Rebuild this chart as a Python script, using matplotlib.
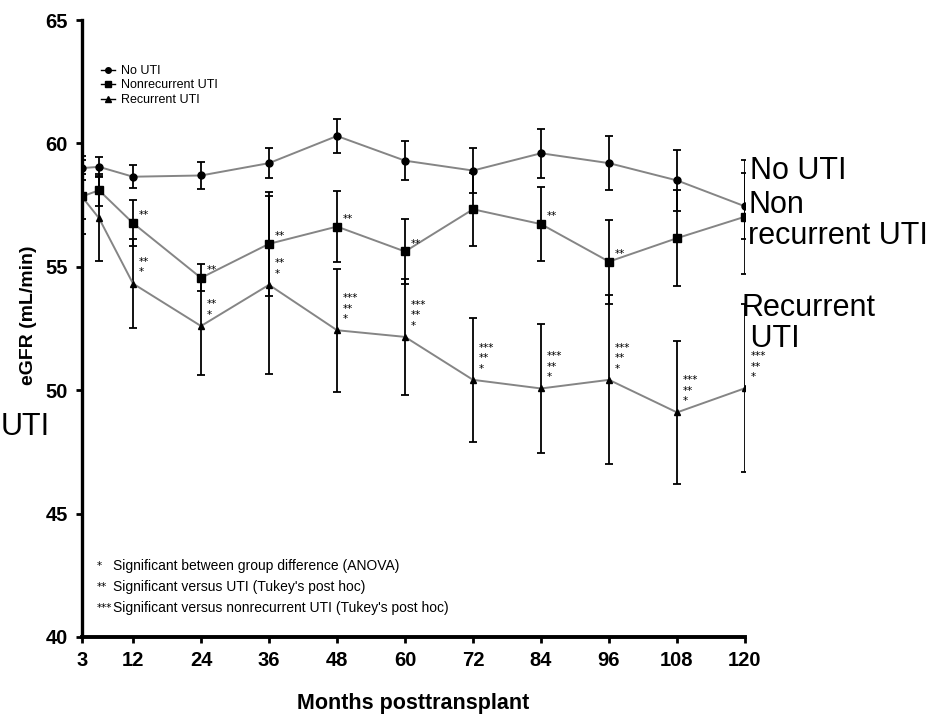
import numpy as np
import matplotlib.pyplot as plt
from matplotlib.lines import Line2D

# eGFR (mL/min) by months after transplant, mean with error bars
months = [3, 6, 12, 24, 36, 48, 60, 72, 84, 96, 108, 120]

no_uti = [59.0, 59.05, 58.65, 58.7, 59.2, 60.3, 59.3, 58.9, 59.6, 59.2, 58.5, 57.45]
no_uti_err = [0.5, 0.4, 0.47, 0.53, 0.6, 0.7, 0.8, 0.9, 1.0, 1.08, 1.25, 1.34]

nonrec = [57.85, 58.1, 56.77, 54.55, 55.93, 56.63, 55.62, 57.33, 56.73, 55.21, 56.16, 57.03]
nonrec_err = [0.9, 0.65, 0.93, 0.55, 2.1, 1.43, 1.32, 1.47, 1.5, 1.7, 1.95, 2.31]

recur = [57.84, 56.97, 54.32, 52.6, 54.27, 52.43, 52.16, 50.42, 50.07, 50.42, 49.1, 50.08]
recur_err = [1.5, 1.72, 1.8, 2.0, 3.6, 2.5, 2.36, 2.5, 2.6, 3.43, 2.9, 3.4]

# significance marks
nonrec_marks = {12: '**', 24: '**', 36: '**', 48: '**', 60: '**', 84: '**', 96: '**'}
recur_marks = {12: '**\n*', 24: '**\n*', 36: '**\n*', 48: '***\n**\n*', 60: '***\n**\n*',
               72: '***\n**\n*', 84: '***\n**\n*', 96: '***\n**\n*', 108: '***\n**\n*',
               120: '***\n**\n*'}

xticks = [3, 12, 24, 36, 48, 60, 72, 84, 96, 108, 120]
yticks = [40, 45, 50, 55, 60, 65]

notes_star = ['*', '**', '***']
notes_text = ['Significant between group difference (ANOVA)',
              "Significant versus UTI (Tukey's post hoc)",
              "Significant versus nonrecurrent UTI (Tukey's post hoc)"]

arial = ['Liberation Sans', 'DejaVu Sans']

W, H = 945, 728
fig = plt.figure(figsize=(W / 100, H / 100), dpi=100)
ax = fig.add_axes([82 / W, 1 - 637 / H, (745 - 82) / W, (637 - 20) / H])

series = [(no_uti, no_uti_err, 'o', 5), (nonrec, nonrec_err, 's', 5.3), (recur, recur_err, '^', 5)]
for vals, err, mk, ms in series:
    ax.errorbar(months, vals, yerr=err, fmt='none', ecolor='black', elinewidth=1.3,
                capsize=3.0, capthick=1.3, zorder=2)
    ax.plot(months, vals, color='#858585', lw=1.4, zorder=3)
    ax.plot(months, vals, ls='none', marker=mk, ms=ms, color='black', zorder=4)

for m, s in nonrec_marks.items():
    ax.annotate(s, (m, nonrec[months.index(m)]), xytext=(4, 2), textcoords='offset points',
                ha='left', va='bottom', fontsize=7.5, family='DejaVu Sans', linespacing=1.05)
for m, s in recur_marks.items():
    ax.annotate(s, (m, recur[months.index(m)]), xytext=(4, 4.5), textcoords='offset points',
                ha='left', va='bottom', fontsize=7.5, family='DejaVu Sans', linespacing=1.05)

ax.set_xlim(3, 120)
ax.set_ylim(40, 65)
ax.set_xticks(xticks)
ax.set_yticks(yticks)
for side in ['top', 'right']:
    ax.spines[side].set_visible(False)
ax.spines['left'].set_linewidth(2.4)
ax.spines['bottom'].set_linewidth(2.8)
ax.tick_params(direction='out', length=4, width=2, pad=6)
for lab in ax.get_xticklabels() + ax.get_yticklabels():
    lab.set_family(arial)
    lab.set_fontweight('bold')
    lab.set_fontsize(14.5)

ax.set_xlabel('Months posttransplant', family=arial, fontweight='bold', fontsize=15.5, labelpad=17)
fig.text(29 / W, 1 - 315 / H, 'eGFR (mL/min)', rotation=90, ha='center', va='center',
         family=arial, fontweight='bold', fontsize=14)

# legend block
handles = [Line2D([], [], color='black', marker='o', ms=4, lw=1),
           Line2D([], [], color='black', marker='s', ms=4, lw=1),
           Line2D([], [], color='black', marker='^', ms=4, lw=1)]
ax.legend(handles, ['No UTI', 'Nonrecurrent UTI', 'Recurrent UTI'], loc='upper left',
          bbox_to_anchor=(101 / W, 1 - 65 / H), bbox_transform=fig.transFigure,
          frameon=False, handlelength=1.1, handletextpad=0.5, borderpad=0,
          borderaxespad=0, labelspacing=0.2, prop={'family': arial, 'size': 9})

# footnotes
for i, (st, tx) in enumerate(zip(notes_star, notes_text)):
    y = 1 - (566 + 21 * i) / H
    fig.text(97 / W, y, st, ha='left', va='center', family='DejaVu Sans', fontsize=7.5)
    fig.text(113 / W, y, tx, ha='left', va='center', family=arial, fontsize=10)

# line end labels
ax.text(120.8, 59.5, 'No UTI', ha='left', va='top', family=arial, fontsize=22, clip_on=False)
ax.text(120.6, 58.1, 'Non\nrecurrent UTI', ha='left', va='top', family=arial, fontsize=22,
        linespacing=1.05, clip_on=False)
ax.text(119.4, 53.95, 'Recurrent\n UTI', ha='left', va='top', family=arial, fontsize=22,
        linespacing=1.05, clip_on=False)
fig.text(1 / W, 1 - 412 / H, 'UTI', ha='left', va='top', family=arial, fontsize=22)

fig.savefig('out.png', dpi=100)
